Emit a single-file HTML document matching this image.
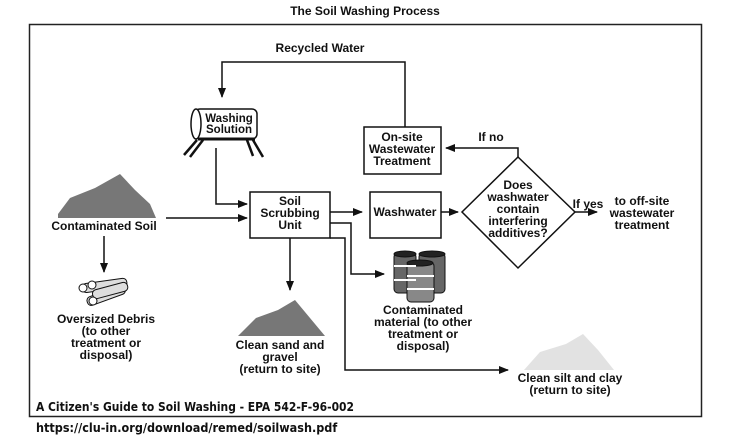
<!DOCTYPE html>
<html><head><meta charset="utf-8"><style>
body{margin:0;background:#fff;}
svg text{font-family:"Liberation Sans",Arial,sans-serif;font-weight:bold;fill:#111;}
</style></head><body>
<svg width="730" height="439" viewBox="0 0 730 439" xmlns="http://www.w3.org/2000/svg">
<defs><marker id="a" markerWidth="10" markerHeight="8" refX="9" refY="4" orient="auto" markerUnits="userSpaceOnUse"><path d="M0,0 L10,4 L0,8 z" fill="#111"/></marker></defs>
<text x="365" y="15" font-size="12" text-anchor="middle">The Soil Washing Process</text>
<rect x="29.5" y="24.5" width="672" height="392" fill="none" stroke="#222" stroke-width="1.5"/>
<g stroke="#111" stroke-width="1.5" fill="none">
<polyline points="405,127 405,62 222,62 222,97" marker-end="url(#a)"/>
<polyline points="216,148 216,204 247,204" marker-end="url(#a)"/>
<line x1="166" y1="218" x2="247" y2="218" marker-end="url(#a)"/>
<line x1="330" y1="212" x2="362" y2="212" marker-end="url(#a)"/>
<line x1="441" y1="212" x2="458" y2="212" marker-end="url(#a)"/>
<line x1="575" y1="212" x2="597" y2="212" marker-end="url(#a)"/>
<polyline points="518,157 518,148 446,148" marker-end="url(#a)"/>
<line x1="290" y1="238" x2="290" y2="290" marker-end="url(#a)"/>
<polyline points="330,223 351,223 351,274 384,274" marker-end="url(#a)"/>
<polyline points="330,238 345,238 345,370 508,370" marker-end="url(#a)"/>
<line x1="104" y1="236" x2="104" y2="272" marker-end="url(#a)"/>
<rect x="250" y="192" width="80" height="46" fill="#fff"/>
<rect x="370" y="192" width="71" height="46" fill="#fff"/>
<rect x="364" y="127" width="77" height="47" fill="#fff"/>
<polygon points="518,157 575,212 518,268 462,212" fill="#fff"/>
</g>
<g stroke="#111" stroke-width="1.5" fill="#fff">
<rect x="195" y="109" width="62" height="30" rx="5"/>
<ellipse cx="196" cy="124" rx="5" ry="15"/>
<line x1="198" y1="139" x2="255" y2="139" stroke-width="3"/>
<line x1="197" y1="140" x2="184" y2="155" stroke-width="2.5"/>
<line x1="203" y1="140" x2="190" y2="157" stroke-width="2.5"/>
<line x1="247" y1="140" x2="253" y2="156" stroke-width="2.5"/>
<line x1="253" y1="140" x2="263" y2="157" stroke-width="2.5"/>
</g>
<text x="229" y="122" font-size="11.5" text-anchor="middle">Washing</text>
<text x="229" y="133" font-size="11.5" text-anchor="middle">Solution</text>
<text x="320" y="52" font-size="12" text-anchor="middle">Recycled Water</text>
<g font-size="12" text-anchor="middle">
<text x="290" y="205">Soil</text><text x="290" y="217">Scrubbing</text><text x="290" y="229">Unit</text>
<text x="405" y="216">Washwater</text>
<text x="402" y="141">On-site</text><text x="402" y="153">Wastewater</text><text x="402" y="165">Treatment</text>
<text x="518" y="189">Does</text><text x="518" y="201">washwater</text><text x="518" y="213">contain</text><text x="518" y="225">interfering</text><text x="518" y="237">additives?</text>
<text x="491" y="141">If no</text>
<text x="588" y="208">If yes</text>
<text x="642" y="205">to off-site</text><text x="642" y="217">wastewater</text><text x="642" y="229">treatment</text>
<text x="104" y="230">Contaminated Soil</text>
<text x="106" y="323">Oversized Debris</text><text x="106" y="335">(to other</text><text x="106" y="347">treatment or</text><text x="106" y="359">disposal)</text>
<text x="280" y="349">Clean sand and</text><text x="280" y="361">gravel</text><text x="280" y="373">(return to site)</text>
<text x="423" y="314">Contaminated</text><text x="423" y="326">material (to other</text><text x="423" y="338">treatment or</text><text x="423" y="350">disposal)</text>
<text x="570" y="382">Clean silt and clay</text><text x="570" y="394">(return to site)</text>
</g>
<polygon points="58,214 70,198 95,188 120,174 135,190 150,204 156,218 58,218" fill="#777"/>
<polygon points="238,336 256,318 278,310 295,300 310,318 325,336" fill="#777"/>
<polygon points="524,370 540,352 566,344 583,334 598,350 614,370" fill="#e2e2e2"/>
<g stroke="#111" stroke-width="1" fill="#ddd">
<rect x="82" y="281" width="45" height="9" rx="4" transform="rotate(-8 104 285)"/>
<rect x="86" y="291" width="40" height="9" rx="4" transform="rotate(-20 106 295)"/>
<rect x="92" y="286" width="36" height="9" rx="4" transform="rotate(-15 110 290)"/>
<circle cx="83" cy="288" r="4" fill="#fff"/><circle cx="92" cy="285" r="4" fill="#fff"/><circle cx="93" cy="301" r="4" fill="#fff"/>
</g>
<g stroke="#111" stroke-width="1">
<rect x="394" y="253" width="22" height="40" rx="4" fill="#666"/>
<rect x="419" y="253" width="26" height="40" rx="4" fill="#666"/>
<rect x="407" y="262" width="27" height="40" rx="4" fill="#888"/>
<ellipse cx="405" cy="254" rx="11" ry="3" fill="#222"/>
<ellipse cx="432" cy="254" rx="13" ry="3" fill="#222"/>
<ellipse cx="420" cy="263" rx="13" ry="3" fill="#222"/>
<line x1="394" y1="266" x2="416" y2="266" stroke="#fff" stroke-width="2"/>
<line x1="394" y1="280" x2="416" y2="280" stroke="#fff" stroke-width="2"/>
<line x1="407" y1="276" x2="434" y2="276" stroke="#fff" stroke-width="2"/>
<line x1="407" y1="289" x2="434" y2="289" stroke="#fff" stroke-width="2"/>
</g>
<text x="36" y="411" font-size="12.5" textLength="318" lengthAdjust="spacingAndGlyphs" style="font-family:'DejaVu Sans Condensed','Liberation Sans',sans-serif">A Citizen's Guide to Soil Washing -  EPA 542-F-96-002</text>
<text x="36" y="432" font-size="12.5" style="font-family:'DejaVu Sans Condensed','Liberation Sans',sans-serif">https://clu-in.org/download/remed/soilwash.pdf</text>
</svg>
</body></html>
